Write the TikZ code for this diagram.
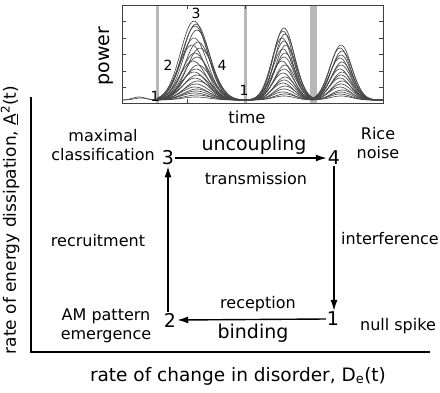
\documentclass[tikz,border=0pt]{standalone}
\usepackage{fontspec}
\setmainfont{DejaVu Sans}
\usetikzlibrary{arrows.meta}
\tikzset{
  lbl/.style={font=\fontsize{16}{18.5}\selectfont, align=center, inner sep=0pt},
  biglbl/.style={font=\fontsize{19}{22}\selectfont, inner sep=0pt},
  num/.style={font=\fontsize{19}{22}\selectfont, inner sep=1pt},
  inum/.style={font=\fontsize{14}{16}\selectfont, inner sep=0pt},
  arr/.style={line width=1.4pt, -{Latex[length=11pt,width=7pt]}},
  axis/.style={line width=2.6pt},
  curve/.style={draw=black!72, line width=0.65pt},
  bar/.style={fill=black!28, draw=none},
}
\begin{document}
\begin{tikzpicture}[x=1pt,y=-1pt]
\useasboundingbox (0,0) rectangle (440,392);
% ---------- inset plot ----------
\begin{scope}
\clip (122,5) rectangle (383,103);
\fill[bar] (155.5,5) rectangle (159,103);
\fill[bar] (243.5,5) rectangle (247,103);
\fill[bar] (310,5) rectangle (316.5,103);
\foreach \h/\d in {79/-2,76/0,74/-1,70/1,62/-2,58/2,55/-4,52/4,47/-1,43/1,39/-3,35/2,31/0,28/-2,25/1,22/-1,19/2,16/0,13/-1,11/1,9/0,7/-1,5/1,3/0}{
  \draw[curve] plot[domain=157:245,samples=45,smooth] (\x,{100-\h*exp(-((\x-196-\d)/19)^2)});
}
\foreach \h/\d in {72/0,69/-1,66/1,62/-2,59/0,55/2,51/-1,47/1,43/0,39/-2,35/1,31/0,27/-1,23/1,20/0,17/-1,14/1,11/0,8/-1,6/1,4/0}{
  \draw[curve] plot[domain=245:313,samples=45,smooth] (\x,{100-\h*exp(-((\x-284-\d)/15)^2)});
}
\foreach \h/\d in {55/0,52/-1,49/1,45/0,42/-1,38/1,35/0,31/-1,28/1,25/0,22/-1,19/1,16/0,13/-1,10/1,8/0,6/-1,4/0}{
  \draw[curve] plot[domain=313:383,samples=45,smooth] (\x,{100-\h*exp(-((\x-341-\d)/15)^2)});
}
\draw[curve] plot[domain=122:157,samples=25,smooth] (\x,{100-3*exp(-((\x-139)/9)^2)});
\draw[curve] plot[domain=122:157,samples=25,smooth] (\x,{100-2*exp(-((\x-141)/9)^2)});
\end{scope}
\draw[black!75, line width=0.9pt] (122,5) rectangle (383,103);
\foreach \yy in {21,38,54,71,87}{
  \draw[black!75, line width=0.8pt] (122,\yy) -- (126,\yy);
  \draw[black!75, line width=0.8pt] (383,\yy) -- (379,\yy);
}
\draw[black!75, line width=0.8pt] (187,5) -- (187,9);
\draw[black!75, line width=0.8pt] (187,103) -- (187,99);
\draw[black!75, line width=0.8pt] (245,5) -- (245,9);
\node[inum] (p3) at (196,13) {3};
\node[inum] (p2) at (168,65) {2};
\node[inum] (p4) at (222,65) {4};
\node[inum] (p1a) at (155,96) {1};
\node[inum] (p1b) at (244,90) {1};
\node[lbl, rotate=90, font=\fontsize{19}{21}\selectfont] (power) at (106,56) {power};
\node[lbl, font=\fontsize{16.5}{19}\selectfont] (time) at (247,117) {time};
% ---------- axes ----------
\coordinate (ytop) at (31,97);
\coordinate (origin) at (31,352);
\coordinate (xend) at (430,352);
\draw[axis] (ytop) -- (origin) -- (xend);
\node[lbl, rotate=90, font=\fontsize{17}{19}\selectfont] (ylab) at (10,220) {rate of energy dissipation, \underline{A}\textsuperscript{2}(t)};
\node[lbl, font=\fontsize{18.5}{21}\selectfont] (xlab) at (238,376) {rate of change in disorder, D\textsubscript{e}(t)};
% ---------- cycle ----------
\node[num] (n3) at (168,158) {3};
\node[num] (n4) at (334,158) {4};
\node[num] (n2) at (170,320) {2};
\node[num] (n1) at (333,319) {1};
\draw[arr] (n3.east) -- (n4.west);
\draw[arr] (n4.south) -- (n4.south |- n1.north);
\draw[arr] (n1.west) -- (n2.east);
\draw[arr] (n3.south |- n2.north) -- (n3.south);
\node[lbl] (maxcl) at (103,145) {maximal\\classification};
\node[biglbl] (uncoup) at (254,145) {uncoupling};
\node[lbl] (transm) at (256,179) {transmission};
\node[lbl] (rice) at (378,143) {Rice\\noise};
\node[lbl] (recruit) at (98,241) {recruitment};
\node[lbl] (interf) at (390,239) {interference};
\node[lbl] (recep) at (258,304) {reception};
\node[biglbl] (bind) at (253,333) {binding};
\node[lbl] (ampat) at (106,326) {AM pattern\\emergence};
\node[lbl] (null) at (398,326) {null spike};
\end{tikzpicture}
\end{document}
